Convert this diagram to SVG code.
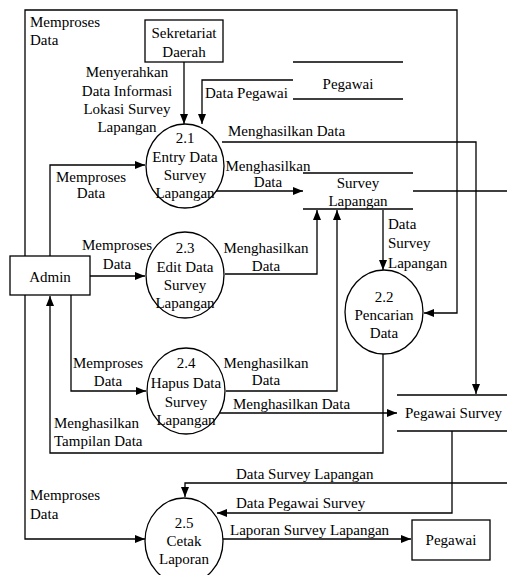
<svg xmlns="http://www.w3.org/2000/svg" width="507" height="575" viewBox="0 0 507 575">
<style>
text{font-family:"Liberation Serif","Times New Roman",serif;font-size:15px;fill:#000}
.c{text-anchor:middle}
.n{fill:#fff;stroke:#000;stroke-width:1.3}
.s{stroke:#000;stroke-width:1.3;fill:none}
.e{stroke:#000;stroke-width:1.3;fill:none;marker-end:url(#ah)}
</style>
<defs>
<marker id="ah" markerUnits="userSpaceOnUse" markerWidth="11" markerHeight="9" refX="10" refY="4" orient="auto">
<path d="M0,0 L10,4 L0,8 z" fill="#000"/>
</marker>
</defs>
<rect width="507" height="575" fill="#fff"/>
<g id="connectors">
<path class="e" d="M25,256 V10 H457 V313 H424"/>
<text x="30" y="27">Memproses</text><text x="30" y="45">Data</text>
<path class="e" d="M50,256 V165 H145"/>
<text class="c" x="91" y="182">Memproses</text><text class="c" x="91" y="198">Data</text>
<path class="e" d="M90,276 H145"/>
<text class="c" x="117" y="250">Memproses</text><text class="c" x="117" y="269">Data</text>
<path class="e" d="M71,295 V391 H146"/>
<text class="c" x="108" y="368">Memproses</text><text class="c" x="108" y="386">Data</text>
<path class="e" d="M25,295 V539 H145"/>
<text x="30" y="500">Memproses</text><text x="30" y="519">Data</text>
<path class="e" d="M383,354 V453 H50 V296"/>
<text x="54" y="428">Menghasilkan</text><text x="54" y="446">Tampilan Data</text>
<path class="e" d="M184,62 V124"/>
<text class="c" x="127" y="77">Menyerahkan</text><text class="c" x="127" y="96">Data Informasi</text><text class="c" x="127" y="114">Lokasi Survey</text><text class="c" x="127" y="132">Lapangan</text>
<path class="e" d="M293,80 H202 V124"/>
<text x="205" y="98">Data Pegawai</text>
<path class="e" d="M222,142 H476 V394"/>
<text x="228" y="136">Menghasilkan Data</text>
<path class="e" d="M216,191 H303"/>
<text class="c" x="268" y="171">Menghasilkan</text><text class="c" x="268" y="187">Data</text>
<path class="e" d="M225,274 H317 V210"/>
<text class="c" x="266" y="253">Menghasilkan</text><text class="c" x="266" y="271">Data</text>
<path class="e" d="M226,391 H337 V210"/>
<text class="c" x="266" y="368">Menghasilkan</text><text class="c" x="266" y="385">Data</text>
<path class="e" d="M383,210 V270"/>
<text x="388" y="229">Data</text><text x="388" y="248">Survey</text><text x="388" y="268">Lapangan</text>
<path class="e" d="M220,413 H397"/>
<text x="233" y="409">Menghasilkan Data</text>
<path class="e" d="M413,191 H520 V483 H185 V497"/>
<text x="236" y="479">Data Survey Lapangan</text>
<path class="e" d="M452,431 V513 H217"/>
<text x="236" y="508">Data Pegawai Survey</text>
<path class="e" d="M223,539 H411"/>
<text x="230" y="535">Laporan Survey Lapangan</text>
</g>
<g id="admin"><rect class="n" x="10" y="256" width="80" height="39"/><text class="c" x="50" y="282">Admin</text></g>
<g id="sekretariat"><rect class="n" x="145" y="20" width="78" height="42"/><text class="c" x="184" y="38">Sekretariat</text><text class="c" x="184" y="57">Daerah</text></g>
<g id="pegawai"><rect class="n" x="412" y="520" width="78" height="40"/><text class="c" x="451" y="545">Pegawai</text></g>
<g id="ds-pegawai"><path class="s" d="M293,62 H403 M293,99 H403"/><text class="c" x="348" y="89">Pegawai</text></g>
<g id="ds-survey"><path class="s" d="M303,173 H413 M303,209 H413"/><text class="c" x="358" y="188">Survey</text><text class="c" x="358" y="206">Lapangan</text></g>
<g id="ds-pegawai-survey"><path class="s" d="M397,395 H507 M397,431 H507"/><text x="405" y="418">Pegawai Survey</text></g>
<g id="p21"><ellipse class="n" cx="185" cy="166" rx="39" ry="42"/><text class="c" x="185" y="143">2.1</text><text class="c" x="185" y="162">Entry Data</text><text class="c" x="185" y="180">Survey</text><text class="c" x="185" y="198">Lapangan</text></g>
<g id="p23"><ellipse class="n" cx="185" cy="275" rx="39" ry="43"/><text class="c" x="185" y="253">2.3</text><text class="c" x="185" y="272">Edit Data</text><text class="c" x="185" y="290">Survey</text><text class="c" x="185" y="308">Lapangan</text></g>
<g id="p24"><ellipse class="n" cx="186" cy="391" rx="39" ry="43"/><text class="c" x="186" y="368">2.4</text><text class="c" x="186" y="388">Hapus Data</text><text class="c" x="186" y="407">Survey</text><text class="c" x="186" y="425">Lapangan</text></g>
<g id="p22"><ellipse class="n" cx="384" cy="312" rx="39" ry="42"/><text class="c" x="384" y="302">2.2</text><text class="c" x="384" y="320">Pencarian</text><text class="c" x="384" y="338">Data</text></g>
<g id="p25"><ellipse class="n" cx="184" cy="541" rx="39" ry="43"/><text class="c" x="184" y="528">2.5</text><text class="c" x="184" y="546">Cetak</text><text class="c" x="184" y="564">Laporan</text></g>
</svg>
